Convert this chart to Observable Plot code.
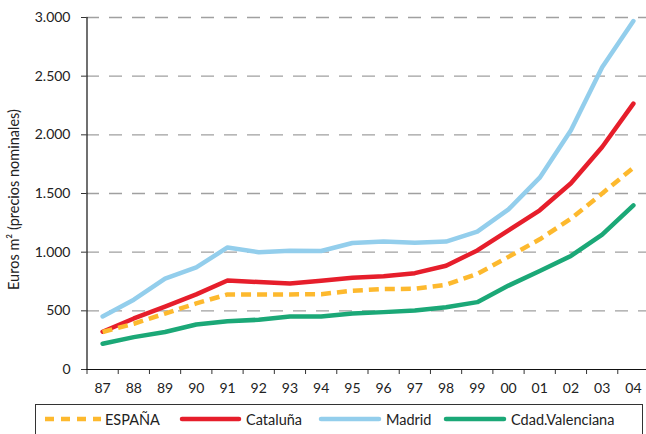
<!DOCTYPE html>
<html>
<head>
<meta charset="utf-8">
<script src="https://cdn.jsdelivr.net/npm/d3@7"></script>
<script src="https://cdn.jsdelivr.net/npm/@observablehq/plot@0.6"></script>
<style>
  html, body { margin: 0; padding: 0; background: #fff; overflow: hidden; }
  #wrap { position: relative; width: 646px; height: 434px; font-family: Lato, "Open Sans", sans-serif; }
  #legend { position: absolute; left: 35px; top: 404px; width: 608px; height: 40px;
            border: 1px solid #333; border-bottom: none; box-sizing: border-box; }
  .item { position: absolute; top: 4px; height: 20px; display: flex; align-items: center;
          font-size: 14.5px; color: #222; white-space: nowrap; }
  .item svg { margin-right: 4px; }
</style>
</head>
<body>
<div id="wrap"><div id="chart"></div><div id="legend"></div></div>
<script>
const years = ["87","88","89","90","91","92","93","94","95","96","97","98","99","00","01","02","03","04"];
const madrid     = [452, 595, 775, 870, 1040, 1000, 1012, 1010, 1078, 1090, 1080, 1090, 1175, 1365, 1635, 2040, 2575, 2970];
const cataluna   = [322, 435, 535, 640, 758, 745, 732, 757, 782, 795, 821, 884, 1015, 1186, 1357, 1587, 1896, 2266];
const espana     = [320, 390, 477, 563, 640, 640, 640, 642, 672, 685, 688, 722, 815, 960, 1110, 1285, 1500, 1720];
const valenciana = [219, 276, 320, 384, 412, 424, 452, 452, 478, 489, 503, 531, 574, 715, 840, 968, 1150, 1399];
const yTicks = [0, 500, 1000, 1500, 2000, 2500, 3000];
const seriesNames = ["ESPAÑA", "Cataluña", "Madrid", "Cdad.Valenciana"];
const colors = {"ESPAÑA": "#FDB92E", "Cataluña": "#E61E2B", "Madrid": "#93CEEC", "Cdad.Valenciana": "#1BA877"};

const toRows = (name, vals) => vals.map((v, i) => ({i, v, name}));
const fmt = v => d3.format(",")(v).replace(/,/g, ".");

const lineOpts = (name) => ({x: "i", y: "v", stroke: colors[name], strokeWidth: 4.5,
  strokeLinejoin: "round", strokeLinecap: name === "ESPAÑA" ? "butt" : "round",
  strokeDasharray: name === "ESPAÑA" ? "10,6" : null});

const chart = Plot.plot({
  width: 646, height: 400,
  marginLeft: 86, marginTop: 17, marginBottom: 31, marginRight: 0,
  x: {domain: [-0.5, 17.5], range: [86.5, 648.5]},
  y: {domain: [0, 3000], range: [369, 17]},
  style: {fontFamily: "Lato, 'Open Sans', sans-serif", fontSize: "14px", color: "#222", background: "#fff"},
  marks: [
    Plot.gridY(yTicks.filter(d => d > 0), {stroke: "#a0a0a0", strokeOpacity: 1, strokeWidth: 1.3, strokeDasharray: "13,10"}),
    Plot.axisY({ticks: yTicks, tickFormat: fmt, tickSize: 5, tickPadding: 11, label: null, stroke: "#333"}),
    Plot.axisX({ticks: d3.range(-0.5, 18, 1), tickFormat: () => "", tickSize: 5, label: null, stroke: "#333"}),
    Plot.axisX({ticks: d3.range(0, 18), tickFormat: i => years[i], tickSize: 0, tickPadding: 14, label: null}),
    Plot.ruleX([-0.5], {stroke: "#111", strokeWidth: 1.2}),
    Plot.ruleY([0], {stroke: "#111", strokeWidth: 1.2}),
    Plot.text(["Euros m² (precios nominales)"], {frameAnchor: "left", rotate: -90, dx: -72, dy: 6,
      textAnchor: "middle", fontSize: 14.5, fill: "#222"}),
    Plot.line(toRows("Madrid", madrid), lineOpts("Madrid")),
    Plot.line(toRows("Cataluña", cataluna), lineOpts("Cataluña")),
    Plot.line(toRows("ESPAÑA", espana), lineOpts("ESPAÑA")),
    Plot.line(toRows("Cdad.Valenciana", valenciana), lineOpts("Cdad.Valenciana"))
  ]
});
document.getElementById("chart").appendChild(chart);

// legend
const legendPos = {"ESPAÑA": [9, 56], "Cataluña": [143, 63], "Madrid": [282, 64], "Cdad.Valenciana": [407, 64]};
const legend = document.getElementById("legend");
for (const name of seriesNames) {
  const [left, w] = legendPos[name];
  const div = document.createElement("div");
  div.className = "item";
  div.style.left = left + "px";
  const dash = name === "ESPAÑA" ? `stroke-dasharray="9,7"` : `stroke-linecap="round"`;
  div.innerHTML = `<svg width="${w}" height="10"><line x1="${name === "ESPAÑA" ? 0 : 3}" x2="${name === "ESPAÑA" ? w : w - 3}" y1="5" y2="5" stroke="${colors[name]}" stroke-width="4.5" ${dash}/></svg><span>${name}</span>`;
  legend.appendChild(div);
}
</script>
</body>
</html>
